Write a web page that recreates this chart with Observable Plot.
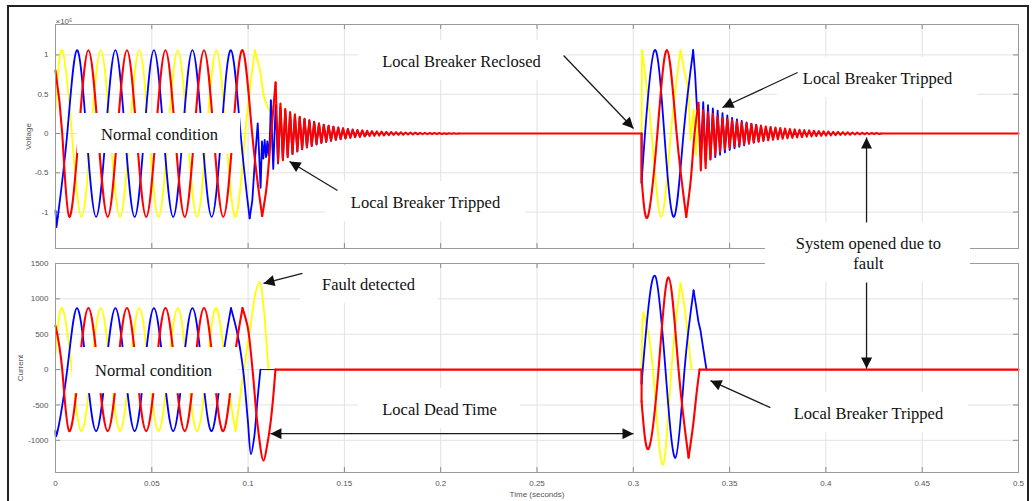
<!DOCTYPE html>
<html><head><meta charset="utf-8">
<script src="https://cdn.jsdelivr.net/npm/d3@7"></script>
<script src="https://cdn.jsdelivr.net/npm/@observablehq/plot@0.6"></script>
<style>
html,body{margin:0;padding:0;background:#fff;}
#wrap{position:relative;width:1033px;height:501px;overflow:hidden;background:#fff;}
#wrap svg{position:absolute;left:0;top:0;}
#border{position:absolute;left:7px;top:5px;width:1022px;height:520px;border:2px solid #222;box-sizing:border-box;pointer-events:none;}
</style></head>
<body><div id="wrap"></div>
<script>
// ---------------- axes / ticks ----------------
const xTicks = [0,0.05,0.1,0.15,0.2,0.25,0.3,0.35,0.4,0.45,0.5];
const xTickLabels = ["0","0.05","0.1","0.15","0.2","0.25","0.3","0.35","0.4","0.45","0.5"];
const vTicks = [-1,-0.5,0,0.5,1];
const vTickLabels = ["-1","-0.5","0","0.5","1"];
const iTicks = [-1000,-500,0,500,1000,1500];
const iTickLabels = ["-1000","-500","0","500","1000","1500"];
const vDomain = [-1.463, 1.387];
const iDomain = [-1455, 1500];

// ringing half-period (s)
const RING_STEP = 0.00125;

// ---------------- Voltage (x10^5) ----------------
// phase A (yellow)
const vA_pre = [[0,0.3],[0.0035,1.06],[0.0085,0],[0.0135,-1.06],[0.0185,0],[0.0235,1.06],[0.0285,0],[0.0335,-1.06],[0.0385,0],[0.0435,1.06],[0.0485,0],[0.0535,-1.06],[0.0585,0],[0.0635,1.06],[0.0685,0],[0.0735,-1.06],[0.0785,0],[0.0835,1.06],[0.0885,0],[0.0935,-1.06],[0.0985,0],[0.1035,1.06]];
const vA_trip1 = [[0.1035,1.06],[0.1062,0.8],[0.1085,0.45],[0.1112,0.3],[0.1143,0.4]];
const vA_ring1_t0 = 0.1143;
const vA_ring1 = [0.4,-0.3,0.36,-0.28,0.32,-0.25,0.28,-0.22,0.25,-0.2,0.22,-0.18,0.19,-0.16,0.16,-0.14,0.14,-0.12,0.12,-0.1,0.1,-0.08,0.07,-0.06,0];
const vA_dead = [[0.1443,0],[0.3043,0],[0.3045,1.06]];
const vA_rec = [[0.3045,1.06],[0.3095,0],[0.3145,-1.06],[0.3195,0],[0.3245,1.06]];
const vA_trip2 = [[0.3245,1.06],[0.3265,0.8],[0.3285,0.58],[0.3297,-0.08],[0.3313,0.3]];
const vA_ring2_t0 = 0.3313;
const vA_ring2 = [0.3,-0.28,0.28,-0.25,0.25,-0.22,0.22,-0.2,0.2,-0.18,0.18,-0.16,0.16,-0.14,0.14,-0.12,0.12,-0.1,0.1,-0.09,0.09,-0.08,0.08,-0.07,0];
const vA_end = [[0.3613,0],[0.5,0]];
// phase B (blue)
const vB_start = [[0,-0.98],[0.0005,-1.19],[0.0012,-1.06]];
const vB_pre = [[0.0012,-1.06],[0.0061,0],[0.0111,1.06],[0.0161,0],[0.0211,-1.06],[0.0261,0],[0.0311,1.06],[0.0361,0],[0.0411,-1.06],[0.0461,0],[0.0511,1.06],[0.0561,0],[0.0611,-1.06],[0.0661,0],[0.0711,1.06],[0.0761,0],[0.0811,-1.06],[0.0861,0],[0.0911,1.06],[0.0961,0],[0.1008,-1.08]];
const vB_trip1 = [[0.1008,-1.08],[0.1022,-0.85],[0.1035,-0.35],[0.1050,0.13],[0.1058,-0.3],[0.1065,-0.69],[0.1072,-0.1],[0.1079,-0.32],[0.1086,-0.08],[0.1093,-0.3],[0.1100,-0.1],[0.1106,-0.28],[0.1111,-0.15],[0.1115,0.1],[0.1118,0.42]];
const vB_ring1_t0 = 0.1118;
const vB_ring1 = [0.42,-0.45,0.36,-0.38,0.33,-0.33,0.3,-0.29,0.27,-0.26,0.24,-0.23,0.21,-0.2,0.19,-0.18,0.17,-0.16,0.15,-0.14,0.13,-0.12,0.11,-0.105,0.1,-0.093,0.087,-0.08,0.075,-0.07,0.065,-0.06,0.056,-0.052,0.048,-0.045,0.042,-0.039,0.036,-0.033,0];
const vB_dead = [[0.1618,0],[0.3043,0],[0.3043,-0.63]];
const vB_rec = [[0.3043,-0.63],[0.3061,0],[0.3111,1.06],[0.3161,0],[0.3211,-1.06],[0.3261,0],[0.3311,1.06]];
const vB_trip2 = [[0.3311,1.06],[0.3321,0.75],[0.3331,0.3],[0.3338,0.36]];
const vB_ring2_t0 = 0.3338;
const vB_ring2 = [0.36,-0.3,0.4,-0.36,0.36,-0.33,0.32,-0.3,0.29,-0.27,0.26,-0.24,0.23,-0.21,0.2,-0.19,0.18,-0.17,0.16,-0.15,0.14,-0.13,0.125,-0.115,0.11,-0.1,0.095,-0.088,0.082,-0.076,0.07,-0.065,0.06,-0.056,0.052,-0.048,0.044,-0.04,0.037,-0.034,0];
const vB_end = [[0.3838,0],[0.5,0]];
// phase C (red)
const vC_pre = [[0,0.8],[0.0035,0],[0.0071,-1.06],[0.0121,0],[0.0171,1.06],[0.0221,0],[0.0271,-1.06],[0.0321,0],[0.0371,1.06],[0.0421,0],[0.0471,-1.06],[0.0521,0],[0.0571,1.06],[0.0621,0],[0.0671,-1.06],[0.0721,0],[0.0771,1.06],[0.0821,0],[0.0871,-1.06],[0.0921,0],[0.0971,1.06],[0.1021,0],[0.1073,-1.05]];
const vC_trip1 = [[0.1073,-1.05],[0.1095,-0.7],[0.1115,-0.15],[0.1132,0.35],[0.1143,0.65]];
const vC_ring1_t0 = 0.1143;
const vC_ring1 = [0.65,-0.36,0.38,-0.34,0.31,-0.30,0.27,-0.26,0.24,-0.22,0.21,-0.20,0.185,-0.175,0.165,-0.155,0.145,-0.135,0.128,-0.12,0.112,-0.105,0.098,-0.092,0.086,-0.08,0.076,-0.071,0.066,-0.062,0.058,-0.055,0.051,-0.048,0.045,-0.042,0.04,-0.037,0.035,-0.033,0.031,-0.029,0.027,-0.026,0.024,-0.023,0.021,-0.02,0.019,-0.018,0.017,-0.016,0.015,-0.014,0.013,-0.012,0.0115,-0.011,0.01,-0.0095,0.009,-0.0085,0.008,-0.0075,0.007,-0.0066,0.0062,-0.0058,0.0055,-0.0052,0.0049,-0.0046,0.0043,-0.004,0.0038,-0.0035,0];
const vC_dead = [[0.2093,0],[0.3043,0],[0.3043,-0.57]];
const vC_rec = [[0.3043,-0.57],[0.3075,-1.06],[0.3125,0],[0.3175,1.06],[0.3225,0],[0.3275,-1.06]];
const vC_trip2 = [[0.3275,-1.06],[0.3298,-0.6],[0.3318,0.0],[0.3338,0.39]];
const vC_ring2_t0 = 0.3338;
const vC_ring2 = [0.39,-0.47,0.30,-0.44,0.27,-0.33,0.25,-0.27,0.22,-0.23,0.20,-0.2,0.185,-0.18,0.17,-0.165,0.155,-0.15,0.14,-0.135,0.13,-0.125,0.12,-0.115,0.11,-0.105,0.1,-0.095,0.09,-0.087,0.083,-0.08,0.076,-0.073,0.07,-0.067,0.064,-0.061,0.058,-0.055,0.052,-0.05,0.047,-0.045,0.043,-0.041,0.039,-0.037,0.035,-0.033,0.031,-0.029,0.028,-0.026,0.025,-0.023,0.022,-0.021,0.02,-0.018,0.017,-0.016,0.015,-0.014,0.013,-0.012,0.011,-0.01,0.0095,-0.009,0.0085,-0.008,0.007,-0.0065,0.006,-0.005,0];
const vC_end = [[0.4288,0],[0.5,0]];

// ---------------- Current (A) ----------------
const iA_pre = [[0,230],[0.0035,870],[0.0085,0],[0.0135,-870],[0.0185,0],[0.0235,870],[0.0285,0],[0.0335,-870],[0.0385,0],[0.0435,870],[0.0485,0],[0.0535,-870],[0.0585,0],[0.0635,870],[0.0685,0],[0.0735,-870],[0.0785,0],[0.0835,870],[0.0885,0],[0.0935,-870]];
const iA_trip1 = [[0.0935,-870],[0.0978,0],[0.1012,600],[0.1040,1100],[0.1060,1240],[0.1080,900],[0.1095,400],[0.1106,0]];
const iA_dead = [[0.1106,0],[0.3043,0],[0.3047,700],[0.3053,807]];
const iA_rec = [[0.3053,807],[0.3102,0],[0.3152,-1346],[0.3198,0],[0.3245,1218]];
const iA_trip2 = [[0.3245,1218],[0.3268,850],[0.3288,350],[0.3302,0]];
const iA_end = [[0.3302,0],[0.5,0]];
const iB_pre = [[0,-860],[0.0011,-870],[0.0061,0],[0.0111,870],[0.0161,0],[0.0211,-870],[0.0261,0],[0.0311,870],[0.0361,0],[0.0411,-870],[0.0461,0],[0.0511,870],[0.0561,0],[0.0611,-870],[0.0661,0],[0.0711,870],[0.0761,0],[0.0811,-870],[0.0861,0],[0.0911,870]];
const iB_trip1 = [[0.0911,870],[0.0945,500],[0.0974,0],[0.0998,-700],[0.1015,-1195],[0.1032,-950],[0.1048,-450],[0.1064,0]];
const iB_dead = [[0.1064,0],[0.3043,0],[0.3043,-200]];
const iB_rec = [[0.3043,-200],[0.3070,650],[0.3115,1317],[0.3167,0],[0.3219,-1246],[0.3266,0],[0.3313,1119]];
const iB_trip2 = [[0.3313,1119],[0.3326,900],[0.3338,680],[0.3349,552],[0.3363,300],[0.3380,0]];
const iB_end = [[0.3380,0],[0.5,0]];
const iC_pre = [[0,620],[0.0035,0],[0.0071,-870],[0.0121,0],[0.0171,870],[0.0221,0],[0.0271,-870],[0.0321,0],[0.0371,870],[0.0421,0],[0.0471,-870],[0.0521,0],[0.0571,870],[0.0621,0],[0.0671,-870],[0.0721,0],[0.0771,870],[0.0821,0],[0.0871,-870],[0.0921,0],[0.0971,870]];
const iC_trip1 = [[0.0971,870],[0.0998,600],[0.1023,0],[0.1050,-800],[0.1080,-1289],[0.1100,-1050],[0.1116,-765],[0.1130,-400],[0.1142,0]];
const iC_dead = [[0.1142,0],[0.3043,0],[0.3043,-450]];
const iC_rec = [[0.3043,-450],[0.3079,-1120],[0.3131,0],[0.3183,1303],[0.3235,0],[0.3287,-1246]];
const iC_trip2 = [[0.3287,-1246],[0.3310,-800],[0.3330,-300],[0.3344,0]];
const iC_end = [[0.3344,0],[0.5,0]];

// ---------------- annotations (data coordinates) ----------------
const topLabels = [
  {text:"Normal condition", t:0.054, v:0},
  {text:"Local Breaker Reclosed", t:0.2108, v:0.929},
  {text:"Local Breaker Tripped", t:0.4268, v:0.712},
  {text:"Local Breaker Tripped", t:0.1921, v:-0.865},
  {text:"System opened due to\nfault", t:0.4221, v:-1.514}
];
const topBoxes = [
  {t1:0.0114, t2:0.0961, v1:-0.254, v2:0.254},
  {t1:0.1573, t2:0.2648, v1:0.674, v2:1.183},
  {t1:0.3749, t2:0.4787, v1:0.458, v2:0.967},
  {t1:0.1402, t2:0.2440, v1:-1.12, v2:-0.611},
  {t1:0.3686, t2:0.4751, v1:-1.896, v2:-1.132}
];
const topArrows = [
  {t1:0.2638, v1:0.992, t2:0.3001, v2:0.064},
  {t1:0.3853, v1:0.776, t2:0.3463, v2:0.331},
  {t1:0.1464, v1:-0.725, t2:0.1215, v2:-0.356},
  {t1:0.4211, v1:-1.132, t2:0.4211, v2:-0.051}
];
const botLabels = [
  {text:"Normal condition", t:0.0509, v:0},
  {text:"Fault detected", t:0.1625, v:1218},
  {text:"Local Dead Time", t:0.1994, v:-552},
  {text:"Local Breaker Tripped", t:0.4221, v:-609}
];
const botBoxes = [
  {t1:0.0088, t2:0.0950, v1:-340, v2:312},
  {t1:0.1272, t2:0.1983, v1:935, v2:1480},
  {t1:0.1573, t2:0.2414, v1:-836, v2:-269},
  {t1:0.3702, t2:0.4740, v1:-892, v2:-326}
];
const botArrows = [
  {t1:0.1282, v1:1360, t2:0.1080, v2:1218},
  {t1:0.1116, v1:-906, t2:0.3001, v2:-906, both:true},
  {t1:0.3712, v1:-538, t2:0.3401, v2:-156},
  {t1:0.4211, v1:1232, t2:0.4211, v2:14}
];

// ---------------- build ----------------
const W = 1033, H = 501;
const SERIF = "'Liberation Serif','Times New Roman',serif";
const SANS = "'Liberation Sans',Arial,sans-serif";
const colorOf = {A:"#ffff00", B:"#0000ff", C:"#ff0000"};
const widthOf = {A:1.8, B:1.8, C:2.1};
const ringPts = (t0, vals) => vals.map((v, i) => [t0 + i * RING_STEP, v]);

// "flat" = the zero-current / zero-voltage stretch (drawn thin for the phases lying under red)
const vSegs = [
  ["A", [[vA_pre,"natural"],[vA_trip1,"catmull-rom"],[ringPts(vA_ring1_t0,vA_ring1),"linear"],[vA_dead,"flat"],[vA_rec,"natural"],[vA_trip2,"linear"],[ringPts(vA_ring2_t0,vA_ring2),"linear"],[vA_end,"flat"]]],
  ["B", [[vB_start,"linear"],[vB_pre,"natural"],[vB_trip1,"linear"],[ringPts(vB_ring1_t0,vB_ring1),"linear"],[vB_dead,"flat"],[vB_rec,"natural"],[vB_trip2,"linear"],[ringPts(vB_ring2_t0,vB_ring2),"linear"],[vB_end,"flat"]]],
  ["C", [[vC_pre,"natural"],[vC_trip1,"catmull-rom"],[ringPts(vC_ring1_t0,vC_ring1),"linear"],[vC_dead,"linear"],[vC_rec,"natural"],[vC_trip2,"catmull-rom"],[ringPts(vC_ring2_t0,vC_ring2),"linear"],[vC_end,"linear"]]]
];
const iSegs = [
  ["A", [[iA_pre,"natural"],[iA_trip1,"catmull-rom"],[iA_dead,"flat"],[iA_rec,"natural"],[iA_trip2,"catmull-rom"],[iA_end,"flat"]]],
  ["B", [[iB_pre,"natural"],[iB_trip1,"catmull-rom"],[iB_dead,"flat"],[iB_rec,"natural"],[iB_trip2,"linear"],[iB_end,"flat"]]],
  ["C", [[iC_pre,"natural"],[iC_trip1,"catmull-rom"],[iC_dead,"linear"],[iC_rec,"natural"],[iC_trip2,"catmull-rom"],[iC_end,"linear"]]]
];

function seriesMarks(segs){
  const m = [];
  const line = (pts, ph, curve, w) => Plot.line(pts, {x: d => d[0], y: d => d[1], stroke: colorOf[ph], strokeWidth: w, curve});
  for (const [ph, list] of segs) for (const [pts, curve] of list) {
    if (curve === "flat") {
      m.push(line(pts.slice(0, 2), ph, "linear", 1));
      if (pts.length > 2) m.push(line(pts.slice(1), ph, "linear", widthOf[ph]));
    } else {
      m.push(line(pts, ph, curve, widthOf[ph]));
    }
  }
  return m;
}
function tickMarks(yDom, frameH){
  const dy = 5 * (yDom[1] - yDom[0]) / frameH;
  return [
    Plot.ruleX(xTicks, {x: d => d, y1: yDom[0], y2: yDom[0] + dy, stroke: "#8a8a8a"}),
    Plot.ruleX(xTicks, {x: d => d, y1: yDom[1], y2: yDom[1] - dy, stroke: "#8a8a8a"})
  ];
}
function yTickMarks(ticks){
  const dx = 5 * 0.5 / 963;
  return [
    Plot.ruleY(ticks, {y: d => d, x1: 0, x2: dx, stroke: "#8a8a8a"}),
    Plot.ruleY(ticks, {y: d => d, x1: 0.5, x2: 0.5 - dx, stroke: "#8a8a8a"})
  ];
}
function annotMarks(boxes, arrows, labels){
  return [
    Plot.rect(boxes, {x1: "t1", x2: "t2", y1: "v1", y2: "v2", fill: "white"}),
    Plot.link(arrows, {x1: "t1", y1: "v1", x2: "t2", y2: "v2", stroke: "#1a1a1a", strokeWidth: 1.3}),
    Plot.text(labels, {x: "t", y: "v", text: "text", fontFamily: SERIF, fontSize: 16.5, fill: "#111", lineHeight: 1.2})
  ];
}
function addHeads(svg, arrows, id){
  const s = d3.select(svg);
  const defs = s.append("defs");
  defs.append("marker").attr("id", id).attr("viewBox", "0 0 10 10").attr("refX", 10).attr("refY", 5)
    .attr("markerWidth", 14).attr("markerHeight", 11).attr("markerUnits", "userSpaceOnUse")
    .attr("orient", "auto-start-reverse")
    .append("path").attr("d", "M0,0L10,5L0,10Z").attr("fill", "#111");
  s.selectAll('g[aria-label="link"] path').each(function(_, i){
    const p = d3.select(this);
    p.attr("marker-end", `url(#${id})`);
    if (arrows[i] && arrows[i].both) p.attr("marker-start", `url(#${id})`);
  });
}

const gridStroke = "#e2e2e2";

const botPlot = Plot.plot({
  width: W, height: H,
  marginLeft: 55, marginRight: 15, marginTop: 263, marginBottom: 29,
  style: {background: "white", fontFamily: SANS, fontSize: "8px", color: "#555"},
  x: {domain: [0, 0.5], ticks: xTicks, tickFormat: d => xTickLabels[xTicks.indexOf(d)], tickSize: 0, tickPadding: 8,
      label: "Time (seconds)", labelAnchor: "center", labelOffset: 24, labelArrow: "none"},
  y: {domain: iDomain, ticks: iTicks, tickFormat: d => iTickLabels[iTicks.indexOf(d)], tickSize: 0, tickPadding: 7,
      label: "Current", labelAnchor: "center", labelOffset: 38, labelArrow: "none"},
  marks: [
    Plot.ruleX(xTicks.slice(1, -1), {x: d => d, stroke: gridStroke}),
    Plot.ruleY(iTicks.slice(0, -1), {y: d => d, stroke: gridStroke}),
    ...tickMarks(iDomain, 209),
    ...yTickMarks(iTicks),
    ...seriesMarks(iSegs),
    Plot.frame({stroke: "#9a9a9a"}),
    ...annotMarks(botBoxes, botArrows, botLabels)
  ]
});

const topPlot = Plot.plot({
  width: W, height: H,
  marginLeft: 55, marginRight: 15, marginTop: 24, marginBottom: 253,
  style: {background: "transparent", fontFamily: SANS, fontSize: "8px", color: "#555"},
  x: {domain: [0, 0.5], axis: null},
  y: {domain: vDomain, ticks: vTicks, tickFormat: d => vTickLabels[vTicks.indexOf(d)], tickSize: 0, tickPadding: 7,
      label: "Voltage", labelAnchor: "center", labelOffset: 30, labelArrow: "none"},
  marks: [
    Plot.ruleX(xTicks.slice(1, -1), {x: d => d, stroke: gridStroke}),
    Plot.ruleY(vTicks, {y: d => d, stroke: gridStroke}),
    ...tickMarks(vDomain, 224),
    ...yTickMarks(vTicks),
    ...seriesMarks(vSegs),
    Plot.frame({stroke: "#9a9a9a"}),
    Plot.text(["×10⁵"], {text: d => d, frameAnchor: "top-left", dy: -6, textAnchor: "start", fontSize: 8, fill: "#555"}),
    ...annotMarks(topBoxes, topArrows, topLabels)
  ]
});

const wrap = document.getElementById("wrap");
wrap.appendChild(botPlot);
wrap.appendChild(topPlot);
addHeads(botPlot, botArrows, "headBot");
addHeads(topPlot, topArrows, "headTop");
const border = document.createElement("div");
border.id = "border";
wrap.appendChild(border);
</script>
</body></html>
